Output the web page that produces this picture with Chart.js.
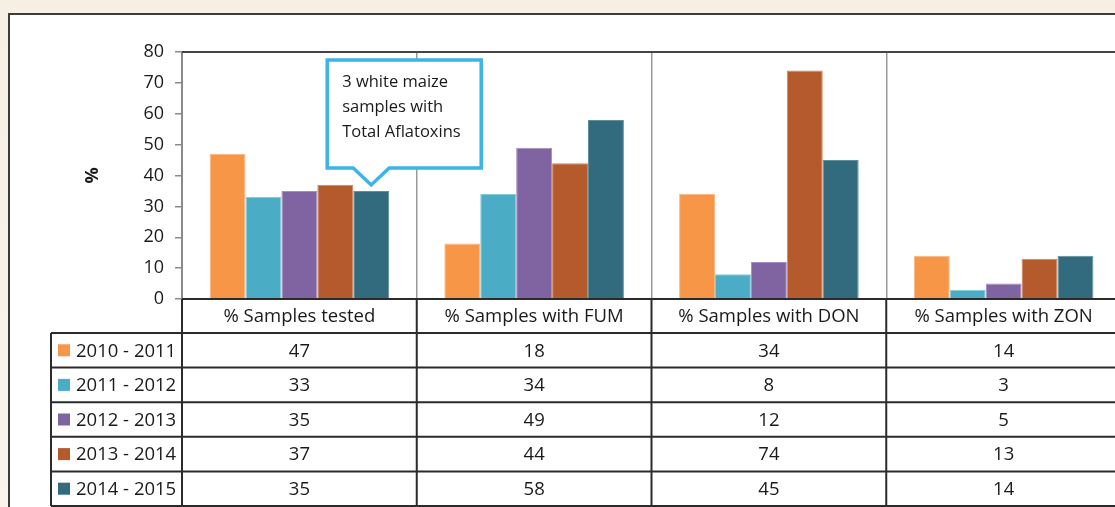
<!DOCTYPE html>
<html>
<head>
<meta charset="utf-8">
<script src="https://cdn.jsdelivr.net/npm/chart.js@4.4.1/dist/chart.umd.min.js"></script>
<style>
  html, body { margin: 0; padding: 0; overflow: hidden; }
  body {
    width: 1115px; height: 507px; position: relative;
    background: linear-gradient(180deg, #f7efe4 0%, #faf4ec 100%);
  }
  #box {
    position: absolute; left: 8px; top: 13px; width: 1200px; height: 600px;
    border: 2px solid #3c3c3c; background: #fff;
  }
  #chart { position: absolute; left: 0; top: 0; }
</style>
</head>
<body>
<div id="box"></div>
<canvas id="chart" width="1126" height="507"></canvas>
<script>
// categories and series
const categories = ['% Samples tested', '% Samples with FUM', '% Samples with DON', '% Samples with ZON'];
const seasons = ['2010 - 2011', '2011 - 2012', '2012 - 2013', '2013 - 2014', '2014 - 2015'];
const s2010 = [47, 18, 34, 14];
const s2011 = [33, 34, 8, 3];
const s2012 = [35, 49, 12, 5];
const s2013 = [37, 44, 74, 13];
const s2014 = [35, 58, 45, 14];
const yMin = 0, yMax = 80, yStep = 10;

const colors = ['#f79646', '#4bacc6', '#8064a2', '#b55a2c', '#316b7d'];
const edges  = ['#fbb784', '#86c9db', '#a58dc0', '#cf845e', '#5f8e9d'];
const calloutLines = ['3 white maize', 'samples with', 'Total Aflatoxins'];

const FONT = '"Open Sans", Lato, sans-serif';
const LINE = '#2b2b2b';

const tablePlugin = {
  id: 'dataTable',
  afterDraw(chart) {
    const ctx = chart.ctx, area = chart.chartArea;
    const series = chart.data.datasets;
    const n = categories.length;
    const step = (area.right - area.left) / n;
    const headH = 34, rowH = 34.6;
    const top = area.bottom;
    const rowsTop = top + headH;
    const bottom = rowsTop + rowH * series.length;
    const legendLeft = 51;

    ctx.save();
    // plot frame top line
    ctx.strokeStyle = '#444';
    ctx.lineWidth = 2;
    ctx.beginPath();
    ctx.moveTo(area.left, area.top);
    ctx.lineTo(chart.width, area.top);
    ctx.stroke();

    ctx.strokeStyle = LINE;
    ctx.lineWidth = 2;
    ctx.beginPath();
    // header top line (x axis)
    ctx.moveTo(area.left, top);
    ctx.lineTo(chart.width, top);
    // row lines
    for (let r = 0; r <= series.length; r++) {
      const y = rowsTop + r * rowH;
      ctx.moveTo(legendLeft, y);
      ctx.lineTo(chart.width, y);
    }
    // left edge of legend column
    ctx.moveTo(legendLeft, rowsTop);
    ctx.lineTo(legendLeft, bottom);
    // column lines
    for (let c = 0; c < n; c++) {
      const x = area.left + c * step;
      ctx.moveTo(x, top);
      ctx.lineTo(x, bottom);
    }
    ctx.stroke();

    ctx.fillStyle = '#1a1a1a';
    ctx.font = '18.5px ' + FONT;
    ctx.textBaseline = 'middle';
    ctx.textAlign = 'center';
    categories.forEach((cat, c) => {
      const cx = area.left + (c + 0.5) * step;
      ctx.fillText(cat, cx, top + headH / 2 + 1);
      series.forEach((ds, r) => {
        ctx.fillText(String(ds.data[c]), cx, rowsTop + (r + 0.5) * rowH + 1);
      });
    });
    ctx.textAlign = 'left';
    series.forEach((ds, r) => {
      const cy = rowsTop + (r + 0.5) * rowH;
      ctx.fillStyle = ds.backgroundColor;
      ctx.fillRect(58, cy - 6, 12, 12);
      ctx.fillStyle = '#1a1a1a';
      ctx.fillText(ds.label, 76, cy + 1);
    });
    ctx.restore();
  }
};

const calloutPlugin = {
  id: 'callout',
  afterDraw(chart) {
    const bar = chart.getDatasetMeta(4).data[0];
    if (!bar) return;
    const ctx = chart.ctx;
    const tipX = bar.x, tipY = bar.y - 6;
    const l = tipX - 44, r = tipX + 110, t = tipY - 125, b = tipY - 17;
    ctx.save();
    ctx.beginPath();
    ctx.moveTo(l, t);
    ctx.lineTo(r, t);
    ctx.lineTo(r, b);
    ctx.lineTo(tipX + 18, b);
    ctx.lineTo(tipX, tipY);
    ctx.lineTo(tipX - 18, b);
    ctx.lineTo(l, b);
    ctx.closePath();
    ctx.fillStyle = '#fff';
    ctx.fill();
    ctx.strokeStyle = '#3cb4e6';
    ctx.lineWidth = 3.5;
    ctx.lineJoin = 'miter';
    ctx.stroke();
    ctx.fillStyle = '#1a1a1a';
    ctx.font = '16.5px ' + FONT;
    ctx.textBaseline = 'middle';
    ctx.textAlign = 'left';
    calloutLines.forEach((line, i) => ctx.fillText(line, l + 15, t + 22 + i * 25));
    ctx.restore();
  }
};

const seriesData = [s2010, s2011, s2012, s2013, s2014];

new Chart(document.getElementById('chart').getContext('2d'), {
  type: 'bar',
  data: {
    labels: categories,
    datasets: seasons.map((label, i) => ({
      label: label,
      data: seriesData[i],
      backgroundColor: colors[i],
      borderColor: edges[i],
      borderWidth: 1,
      borderSkipped: 'bottom',
      categoryPercentage: 0.765,
      barPercentage: 1
    }))
  },
  options: {
    responsive: false,
    animation: false,
    devicePixelRatio: 1,
    layout: { padding: { left: 82, top: 52, right: 5, bottom: 208 } },
    plugins: {
      legend: { display: false },
      tooltip: { enabled: false }
    },
    scales: {
      x: {
        ticks: { display: false },
        grid: { color: '#9a9a9a', lineWidth: 1.5, drawTicks: false },
        border: { display: false }
      },
      y: {
        min: yMin, max: yMax,
        ticks: {
          stepSize: yStep, padding: 11, color: '#1a1a1a',
          font: { family: FONT, size: 18 }
        },
        grid: { drawOnChartArea: false, drawTicks: true, tickLength: 7, color: '#8a8a8a', lineWidth: 1.5 },
        border: { color: '#8a8a8a', width: 2 },
        title: {
          display: true, text: '%', color: '#1a1a1a',
          font: { family: FONT, size: 18, weight: 'bold' },
          padding: { top: 0, bottom: 0 }
        },
        afterFit(scale) { scale.width = 100; }
      }
    }
  },
  plugins: [tablePlugin, calloutPlugin]
});
</script>
</body>
</html>
